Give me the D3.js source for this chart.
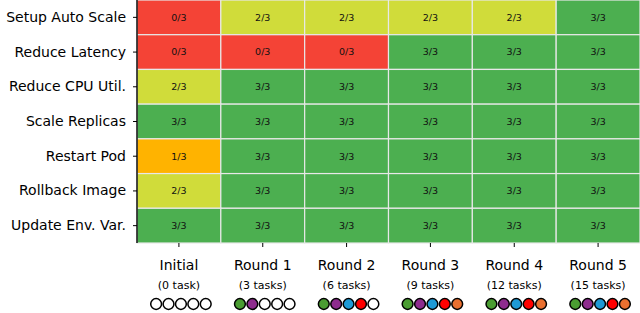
<!DOCTYPE html>
<html>
<head>
<meta charset="utf-8">
<script src="https://cdn.jsdelivr.net/npm/d3@7"></script>
<style>
  body { margin: 0; background: #fff; }
  svg { display: block; }
</style>
</head>
<body>
<div class="chart"></div>
<script>
// tasks (rows) and rounds (columns)
var tasks = ["Setup Auto Scale", "Reduce Latency", "Reduce CPU Util.", "Scale Replicas",
             "Restart Pod", "Rollback Image", "Update Env. Var."];
var rounds = ["Initial", "Round 1", "Round 2", "Round 3", "Round 4", "Round 5"];
var roundTasks = ["(0 task)", "(3 tasks)", "(6 tasks)", "(9 tasks)", "(12 tasks)", "(15 tasks)"];
// successes out of 3, one array per task
var setupAutoScale = [0, 2, 2, 2, 2, 3];
var reduceLatency  = [0, 0, 0, 3, 3, 3];
var reduceCpu      = [2, 3, 3, 3, 3, 3];
var scaleReplicas  = [3, 3, 3, 3, 3, 3];
var restartPod     = [1, 3, 3, 3, 3, 3];
var rollbackImage  = [2, 3, 3, 3, 3, 3];
var updateEnvVar   = [3, 3, 3, 3, 3, 3];
var scores = [setupAutoScale, reduceLatency, reduceCpu, scaleReplicas, restartPod, rollbackImage, updateEnvVar];
var total = 3;
// filled dots under each round
var filledDots = [0, 2, 4, 5, 5, 5];
var dotColors = ["#4a9d32", "#8e2c8e", "#1e9ad6", "#ff0000", "#ea7030"];

var svgWidth = 640;
var svgHeight = 313;
var margin = { top: 0, right: 0, bottom: 70, left: 137 };
var width = svgWidth - margin.left - margin.right;
var height = 243;
var font = "DejaVu Sans, sans-serif";

var svg = d3.select(".chart")
  .append("svg")
  .attr("width", svgWidth)
  .attr("height", svgHeight);

var chart = svg.append("g")
  .attr("transform", "translate(" + margin.left + "," + margin.top + ")");

var xScale = d3.scaleBand().domain(rounds).range([0, width]);
var yScale = d3.scaleBand().domain(tasks).range([0, height]);
var color = d3.scaleOrdinal()
  .domain([0, 1, 2, 3])
  .range(["#f44336", "#ffb300", "#d0dc3a", "#4caf50"]);

// flatten into cells
var cells = [];
tasks.forEach(function(t, i) {
  rounds.forEach(function(r, j) {
    cells.push({ task: t, round: r, value: scores[i][j] });
  });
});

var cell = chart.selectAll(".cell")
  .data(cells)
  .enter().append("g")
  .attr("class", "cell");

cell.append("rect")
  .attr("x", function(d) { return xScale(d.round); })
  .attr("y", function(d) { return yScale(d.task); })
  .attr("width", xScale.bandwidth())
  .attr("height", yScale.bandwidth())
  .attr("fill", function(d) { return color(d.value); })
  .attr("stroke", "#e8e8e8")
  .attr("stroke-width", 1.2);

cell.append("text")
  .attr("x", function(d) { return xScale(d.round) + xScale.bandwidth() / 2; })
  .attr("y", function(d) { return yScale(d.task) + yScale.bandwidth() / 2; })
  .attr("dy", "0.35em")
  .attr("text-anchor", "middle")
  .attr("font-family", font)
  .attr("font-size", "9.5px")
  .attr("fill", "#111")
  .text(function(d) { return d.value + "/" + total; });

// left axis
var leftAxis = d3.axisLeft(yScale).tickSize(4).tickPadding(7);
var gy = chart.append("g").call(leftAxis);
gy.select(".domain").attr("stroke", "#000").attr("stroke-width", 1.4)
  .attr("d", "M0,0V" + height);
gy.selectAll("text")
  .attr("font-family", font)
  .attr("font-size", "14px")
  .attr("fill", "#000");

// bottom axis (ticks only)
var bottomAxis = d3.axisBottom(xScale).tickSize(4).tickFormat("");
var gx = chart.append("g")
  .attr("transform", "translate(0," + height + ")")
  .call(bottomAxis);
gx.select(".domain").remove();

// round labels
var lab = chart.selectAll(".roundLabel")
  .data(rounds)
  .enter().append("g")
  .attr("class", "roundLabel")
  .attr("transform", function(d) {
    return "translate(" + (xScale(d) + xScale.bandwidth() / 2) + "," + height + ")";
  });

lab.append("text")
  .attr("y", 22)
  .attr("dy", "0.35em")
  .attr("text-anchor", "middle")
  .attr("font-family", font)
  .attr("font-size", "14px")
  .text(function(d) { return d; });

lab.append("text")
  .attr("y", 42)
  .attr("dy", "0.35em")
  .attr("text-anchor", "middle")
  .attr("font-family", font)
  .attr("font-size", "11px")
  .text(function(d, i) { return roundTasks[i]; });

var dotX = d3.scaleBand().domain(d3.range(5)).range([-29, 33]);
lab.selectAll("circle")
  .data(function(d, i) {
    return d3.range(5).map(function(k) { return { k: k, filled: k < filledDots[i] }; });
  })
  .enter().append("circle")
  .attr("cx", function(d) { return dotX(d.k) + dotX.bandwidth() / 2; })
  .attr("cy", 61)
  .attr("r", 5.4)
  .attr("fill", function(d) { return d.filled ? dotColors[d.k] : "#fff"; })
  .attr("stroke", "#000")
  .attr("stroke-width", 1.5);
</script>
</body>
</html>
